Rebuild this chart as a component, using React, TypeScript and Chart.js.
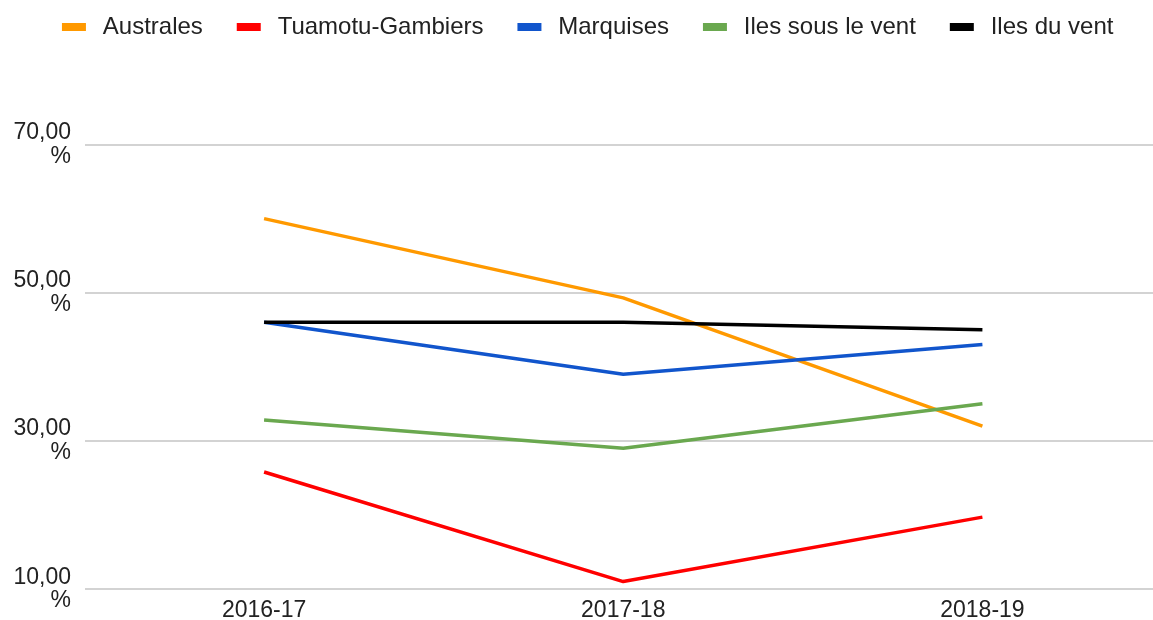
import React, { useEffect, useRef } from "react";
import { Chart, registerables } from "chart.js";

Chart.register(...registerables);

const categories = ["2016-17", "2017-18", "2018-19"];
const seriesNames = ["Australes", "Tuamotu-Gambiers", "Marquises", "Iles sous le vent", "Iles du vent"];
const australes = [60, 49.3, 32];
const tuamotuGambiers = [25.8, 11, 19.7];
const marquises = [46, 39, 43];
const ilesSousLeVent = [32.8, 29, 35];
const ilesDuVent = [46, 46, 45];
const yTickValues = [10, 30, 50, 70];

const FONT = "'Liberation Sans', Arial, sans-serif";

function swatch(color: string): HTMLCanvasElement {
  const c = document.createElement("canvas");
  c.width = 53;
  c.height = 8;
  const g = c.getContext("2d");
  if (g) {
    g.fillStyle = color;
    g.fillRect(24, 0, 24, 8);
  }
  return c;
}

const shiftLegend = {
  id: "shiftLegend",
  afterLayout(chart: any) {
    if (chart.legend) {
      chart.legend.left += 28;
    }
  },
};

export default function App() {
  const ref = useRef<HTMLCanvasElement | null>(null);

  useEffect(() => {
    if (!ref.current) return;
    const series = [australes, tuamotuGambiers, marquises, ilesSousLeVent, ilesDuVent];
    const colors = ["#ff9900", "#ff0000", "#1155cc", "#6aa84f", "#000000"];
    const chart = new Chart(ref.current, {
      type: "line",
      data: {
        labels: categories,
        datasets: series.map((d, i) => ({
          label: seriesNames[i],
          data: d,
          borderColor: colors[i],
          backgroundColor: colors[i],
          borderWidth: 3.5,
          pointRadius: 0,
          pointHoverRadius: 0,
          pointStyle: swatch(colors[i]) as any,
          tension: 0,
          fill: false,
          borderJoinStyle: "round" as const,
          order: -i,
        })),
      },
      plugins: [shiftLegend],
      options: {
        responsive: false,
        animation: false,
        devicePixelRatio: 1,
        layout: { padding: { left: 0, top: 5, right: 0, bottom: 0 } },
        plugins: {
          tooltip: { enabled: false },
          legend: {
            position: "top",
            align: "start",
            labels: {
              usePointStyle: true,
              pointStyleWidth: 52.8,
              padding: 10,
              color: "#222222",
              font: { family: FONT, size: 24 },
              sort: (a: any, b: any) => a.datasetIndex - b.datasetIndex,
            },
          },
        },
        scales: {
          x: {
            offset: true,
            grid: { display: false, drawTicks: false },
            border: { display: false },
            afterFit: (scale: any) => {
              scale.height = 31;
            },
            ticks: {
              color: "#222222",
              padding: 12,
              font: { family: FONT, size: 23, lineHeight: 0.826 },
            },
          },
          y: {
            min: 10,
            max: 82.9,
            afterFit: (scale: any) => {
              scale.width = 84.5;
              scale.paddingTop = 0;
              scale.paddingBottom = 0;
            },
            afterBuildTicks: (scale: any) => {
              scale.ticks = yTickValues.map((v) => ({ value: v }));
            },
            grid: { color: "#d3d3d3", lineWidth: 2, drawTicks: false },
            border: { display: false },
            ticks: {
              color: "#222222",
              padding: 13.5,
              font: { family: FONT, size: 23, lineHeight: 1.02 },
              callback: (v: any) => [Number(v).toFixed(2).replace(".", ","), "%"],
            },
          },
        },
      },
    });
    return () => chart.destroy();
  }, []);

  return (
    <div
      style={{
        position: "fixed",
        left: 0,
        top: 0,
        width: 1153,
        height: 620,
        overflow: "hidden",
        background: "#ffffff",
      }}
    >
      <canvas ref={ref} width={1162} height={620} style={{ width: 1162, height: 620, display: "block" }} />
    </div>
  );
}
